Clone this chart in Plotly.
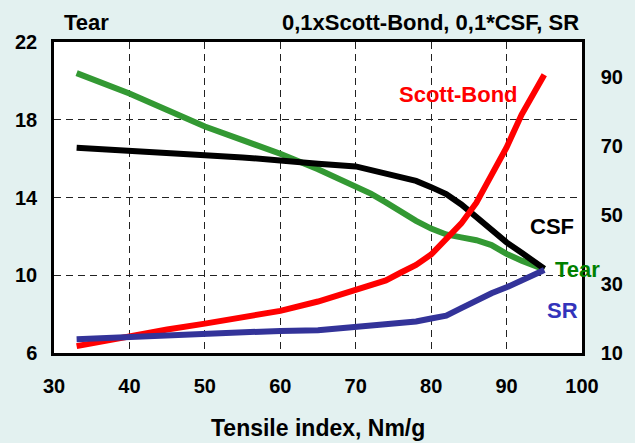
import plotly.graph_objects as go

x = [33, 35, 40, 45, 50, 55, 60, 65, 70, 72, 74, 76, 78, 80, 82, 84, 86, 88, 90, 92, 94, 95]
tear = [20.4, 20.1, 19.35, 18.5, 17.65, 16.95, 16.25, 15.45, 14.6, 14.2, 13.75, 13.25, 12.8, 12.4,
        12.1, 11.95, 11.8, 11.55, 11.1, 10.75, 10.45, 10.3]
csf = [69.4, 69.1, 68.4, 67.8, 67.2, 66.6, 65.9, 64.8, 64.0, 63.0, 61.8, 60.9, 59.8, 58.0,
       56.0, 53.0, 49.3, 45.4, 42.0, 39.0, 35.8, 34.4]
scott_bond = [12.0, 12.8, 15.2, 16.8, 18.5, 20.3, 22.2, 24.9, 28.2, 29.5, 31.0, 33.3, 35.5, 38.5,
              42.8, 47.5, 53.5, 61.5, 69.5, 79.0, 86.5, 90.5]
sr = [14.0, 14.2, 14.6, 15.0, 15.4, 15.8, 16.4, 16.6, 17.6, 18.2, 18.3, 18.9, 19.1, 20.0,
      20.8, 23.0, 25.2, 27.3, 29.0, 30.9, 33.0, 34.0]

x_ticks = [30, 40, 50, 60, 70, 80, 90, 100]
left_ticks = [6, 10, 14, 18, 22]
right_ticks = [10, 30, 50, 70, 90]

BG = "#e3f1f0"
FONT = "Liberation Sans, Arial, sans-serif"

fig = go.Figure()
fig.add_trace(go.Scatter(x=x, y=tear, mode="lines", line=dict(color="#339933", width=6), yaxis="y"))
fig.add_trace(go.Scatter(x=x, y=csf, mode="lines", line=dict(color="#000000", width=6), yaxis="y2"))
fig.add_trace(go.Scatter(x=x, y=scott_bond, mode="lines", line=dict(color="#ff0000", width=6), yaxis="y2"))
fig.add_trace(go.Scatter(x=x, y=sr, mode="lines", line=dict(color="#333399", width=6), yaxis="y2"))

L, R, T, B = 54, 53, 42, 90
W, H = 635, 443
pw, ph = W - L - R, H - T - B

def px(xp):
    return (xp - L) / pw

def py(yp):
    return (H - B - yp) / ph

tick_font = dict(family=FONT, size=20, color="black", weight="bold")

fig.update_layout(
    width=W, height=H,
    margin=dict(l=L, r=R, t=T, b=B, autoexpand=False),
    paper_bgcolor=BG, plot_bgcolor="white",
    showlegend=False,
    font=dict(family=FONT, size=20, color="black"),
    xaxis=dict(range=[30, 100], tickvals=x_ticks, showgrid=True, gridcolor="#222222", gridwidth=1,
               griddash="7px,5px", showline=True, linecolor="black", linewidth=2.5, mirror=True,
               ticks="", tickfont=tick_font, ticklabelstandoff=13, zeroline=False, automargin=False),
    yaxis=dict(range=[6, 22], tickvals=left_ticks, showgrid=True, gridcolor="#222222", gridwidth=1,
               griddash="7px,5px", showline=True, linecolor="black", linewidth=2.5, mirror=True,
               ticks="", tickfont=tick_font, ticklabelstandoff=10, zeroline=False, automargin=False),
    yaxis2=dict(range=[10, 100], tickvals=right_ticks, overlaying="y", side="right", showgrid=False,
                showline=True, linecolor="black", linewidth=2.5, ticks="", tickfont=tick_font,
                ticklabelstandoff=12, zeroline=False, automargin=False),
)

def ann(text, xp, yp, color="black", xanchor="center", size=22):
    fig.add_annotation(text=text, xref="paper", yref="paper", x=px(xp), y=py(yp),
                       xanchor=xanchor, yanchor="middle", showarrow=False,
                       font=dict(family=FONT, size=size, color=color, weight="bold"))

ann("Tear", 86, 23)
ann("0,1xScott-Bond, 0,1*CSF, SR", 581, 23, xanchor="right")
ann("Scott-Bond", 458, 95, color="#ff0000")
ann("CSF", 552, 226)
ann("Tear", 577, 269, color="#008000")
ann("SR", 562, 310, color="#3333bb")
ann("Tensile index, Nm/g", 318, 428, size=23)

fig.write_html("out.html", config={"displayModeBar": False},
               post_script="document.body.style.margin='0';document.body.style.overflow='hidden';")
